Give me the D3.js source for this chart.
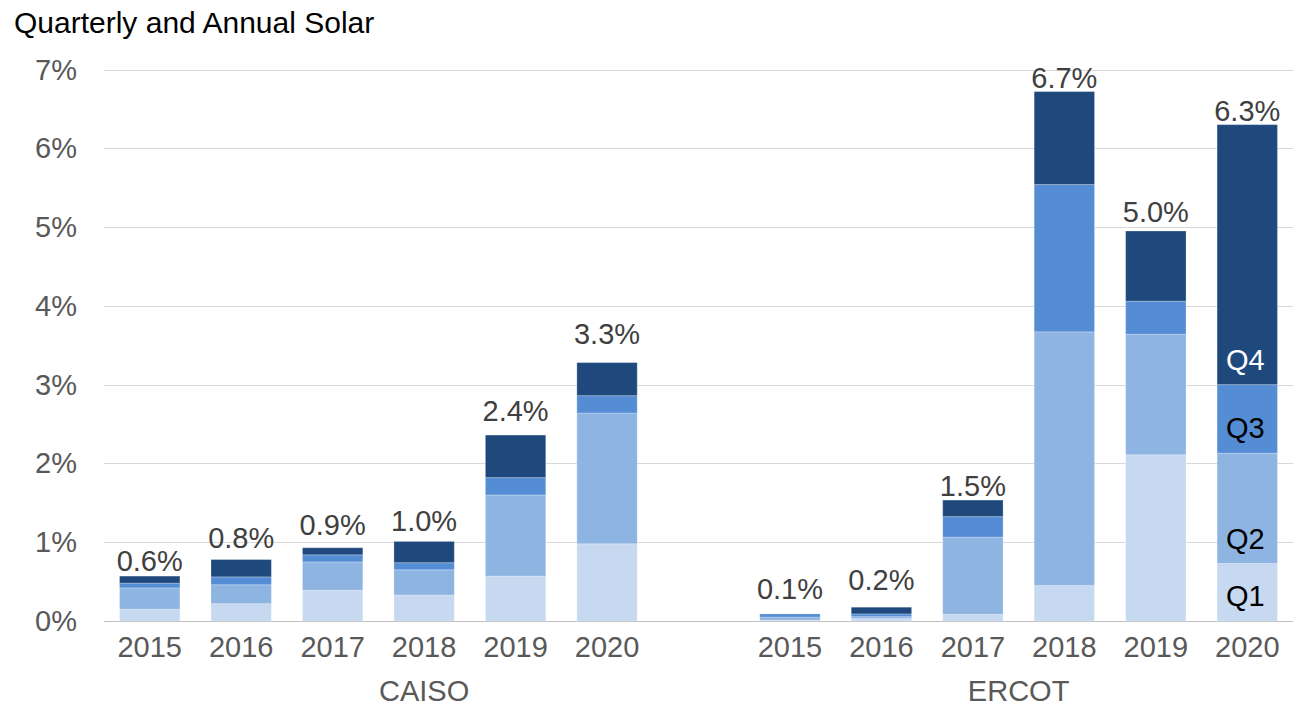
<!DOCTYPE html>
<html>
<head>
<meta charset="utf-8">
<script src="https://cdn.jsdelivr.net/npm/d3@7"></script>
<style>
  html, body { margin: 0; padding: 0; background: #fff; }
  svg text { font-family: "Liberation Sans", Arial, sans-serif; }
</style>
</head>
<body>
<svg id="chart" width="1293" height="712"></svg>
<script>
// data (percent of load)
var groups = ['CAISO', 'ERCOT'];
var years = ['2015', '2016', '2017', '2018', '2019', '2020'];
var quarters = ['Q1', 'Q2', 'Q3', 'Q4'];

var caisoQ1 = [0.15, 0.22, 0.39, 0.33, 0.57, 0.98];
var caisoQ2 = [0.27, 0.24, 0.36, 0.32, 1.03, 1.66];
var caisoQ3 = [0.06, 0.10, 0.09, 0.09, 0.22, 0.22];
var caisoQ4 = [0.09, 0.22, 0.09, 0.27, 0.54, 0.42];
var caisoLabels = ['0.6%', '0.8%', '0.9%', '1.0%', '2.4%', '3.3%'];
// hidden annual series the total labels hang on
var caisoLabelAt = [0.58, 0.88, 1.04, 1.09, 2.49, 3.47];

var ercotQ1 = [0.01, 0.03, 0.085, 0.45, 2.11, 0.73];
var ercotQ2 = [0.04, 0.025, 0.98, 3.22, 1.53, 1.40];
var ercotQ3 = [0.04, 0.035, 0.26, 1.87, 0.42, 0.87];
var ercotQ4 = [0.0, 0.085, 0.21, 1.18, 0.89, 3.30];
var ercotLabels = ['0.1%', '0.2%', '1.5%', '6.7%', '5.0%', '6.3%'];
var ercotLabelAt = [0.23, 0.34, 1.54, 6.71, 5.01, 6.30];

var yTicks = [0, 1, 2, 3, 4, 5, 6, 7];

var colors = ['#c6d9f0', '#8eb4e2', '#548dd4', '#1f497d'];

// build rows, one empty slot after CAISO (like the excel sheet)
var rows = [];
years.forEach(function(y, i) {
  rows.push({ key: 'CAISO ' + y, group: 'CAISO', year: y, q: [caisoQ1[i], caisoQ2[i], caisoQ3[i], caisoQ4[i]], label: caisoLabels[i], at: caisoLabelAt[i] });
});
rows.push({ key: 'blank', group: 'CAISO', year: '', q: null });
years.forEach(function(y, i) {
  rows.push({ key: 'ERCOT ' + y, group: 'ERCOT', year: y, q: [ercotQ1[i], ercotQ2[i], ercotQ3[i], ercotQ4[i]], label: ercotLabels[i], at: ercotLabelAt[i] });
});

var svg = d3.select('#chart');
var plotLeft = 104, plotRight = 1293, plotTop = 69.5, plotBottom = 621;
var fontSize = 29;

var x = d3.scaleBand()
  .domain(rows.map(function(d){ return d.key; }))
  .range([plotLeft, plotRight])
  .paddingInner(0.34)
  .paddingOuter(0.17);

var y = d3.scaleLinear().domain([0, 7]).range([plotBottom, plotTop]);

// title
svg.append('text')
  .attr('x', 14).attr('y', 33)
  .attr('font-size', 30).attr('fill', '#000')
  .text('Quarterly and Annual Solar');

// gridlines
svg.append('g').selectAll('line')
  .data(yTicks)
  .enter().append('line')
    .attr('x1', plotLeft).attr('x2', plotRight)
    .attr('y1', function(d){ return Math.round(y(d)) + 0.5; })
    .attr('y2', function(d){ return Math.round(y(d)) + 0.5; })
    .attr('stroke', function(d){ return d === 0 ? '#bfbfbf' : '#d9d9d9'; })
    .attr('stroke-width', 1);

// y labels
svg.append('g').selectAll('text')
  .data(yTicks)
  .enter().append('text')
    .attr('x', 77)
    .attr('y', function(d){ return y(d) + 10; })
    .attr('text-anchor', 'end')
    .attr('font-size', fontSize)
    .attr('fill', '#595959')
    .text(function(d){ return d + '%'; });

// stacked bars
var barRows = rows.filter(function(d){ return d.q; });
var stacked = svg.append('g');
barRows.forEach(function(r) {
  var base = 0;
  r.q.forEach(function(v, qi) {
    stacked.append('rect')
      .attr('x', x(r.key))
      .attr('width', x.bandwidth())
      .attr('y', y(base + v))
      .attr('height', y(base) - y(base + v))
      .attr('fill', colors[qi])
      .attr('stroke', '#fff')
      .attr('stroke-opacity', 0.25)
      .attr('stroke-width', 1);
    r['b' + qi] = base;
    base += v;
  });
  r.total = base;
});

// totals above bars
svg.append('g').selectAll('text')
  .data(barRows)
  .enter().append('text')
    .attr('x', function(d){ return x(d.key) + x.bandwidth() / 2; })
    .attr('y', function(d){ return y(d.at) - 4; })
    .attr('text-anchor', 'middle')
    .attr('font-size', fontSize)
    .attr('fill', '#404040')
    .text(function(d){ return d.label; });

// quarter legend inside the last ERCOT bar
var last = barRows[barRows.length - 1];
quarters.forEach(function(q, qi) {
  svg.append('text')
    .attr('x', x(last.key) + x.bandwidth() / 2 - 2)
    .attr('y', y(last['b' + qi]) - 25)
    .attr('dy', '0.35em')
    .attr('text-anchor', 'middle')
    .attr('font-size', fontSize)
    .attr('fill', qi === 3 ? '#fff' : '#000')
    .text(q);
});

// year labels
svg.append('g').selectAll('text')
  .data(barRows)
  .enter().append('text')
    .attr('x', function(d){ return x(d.key) + x.bandwidth() / 2; })
    .attr('y', 657)
    .attr('text-anchor', 'middle')
    .attr('font-size', fontSize)
    .attr('fill', '#595959')
    .text(function(d){ return d.year; });

// group labels, centred on each group's slots
groups.forEach(function(g) {
  var keys = rows.filter(function(d){ return d.group === g; }).map(function(d){ return d.key; });
  var x0 = x(keys[0]) - x.step() * x.paddingInner() / 2;
  var x1 = x(keys[keys.length - 1]) + x.bandwidth() + x.step() * x.paddingInner() / 2;
  svg.append('text')
    .attr('x', (x0 + x1) / 2)
    .attr('y', 701)
    .attr('text-anchor', 'middle')
    .attr('font-size', fontSize)
    .attr('fill', '#595959')
    .text(g);
});
</script>
</body>
</html>
